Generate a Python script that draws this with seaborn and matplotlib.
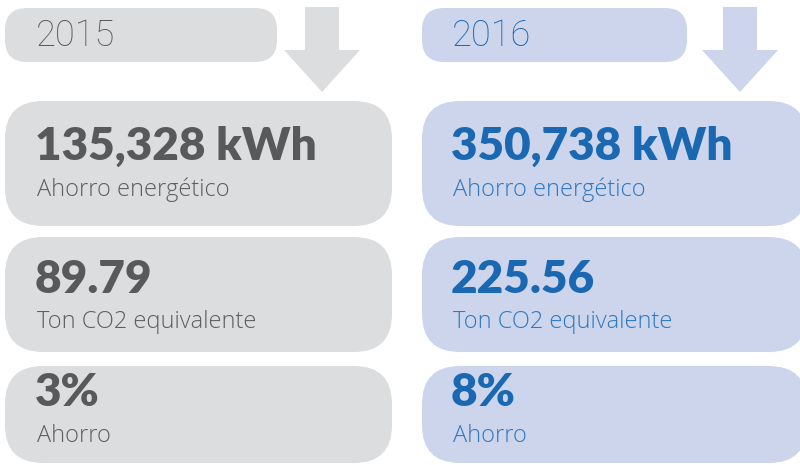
import matplotlib
matplotlib.use("Agg")
import matplotlib.pyplot as plt
from matplotlib.patches import FancyBboxPatch, Polygon
import seaborn as sns

sns.set_theme(style="white")
plt.rcParams['font.family'] = ['Lato', 'DejaVu Sans']

# ---- data ----
years = ["2015", "2016"]
values_2015 = ["135,328 kWh", "89.79", "3%"]
values_2016 = ["350,738 kWh", "225.56", "8%"]
labels = ["Ahorro energético", "Ton CO2 equivalente", "Ahorro"]

# ---- styles ----
box_colors = ["#dcdddf", "#ccd5eb"]
value_colors = ["#58595b", "#1a67b2"]
label_colors = ["#5d5e60", "#2e78c3"]
light_font = ['Open Sans', 'DejaVu Sans']
year_font = ['Roboto', 'DejaVu Sans']

fig = plt.figure(figsize=(8, 4.65), dpi=100)
ax = fig.add_axes([0, 0, 1, 1])
ax.set_xlim(0, 800)
ax.set_ylim(465, 0)
ax.axis("off")

col_x = [5, 422]
col_w = [387, 385]
pill_w = [272, 265]
text_x = [37, 453]
arrow_cx = [322, 740]
rows = [(101, 125), (237, 115), (366, 97)]
val_cy = [146, 279, 392]
lab_cy = [190, 322, 436]

for c, (yr, vals) in enumerate(zip(years, [values_2015, values_2016])):
    # year pill
    ax.add_patch(FancyBboxPatch((col_x[c], 8), pill_w[c], 54,
                                boxstyle="round,pad=0,rounding_size=22",
                                fc=box_colors[c], ec="none"))
    ax.text(text_x[c] - 1, 36, yr, fontsize=26, fontweight="light",
            family=year_font, color=value_colors[c], va="center", ha="left")
    # arrow
    cx = arrow_cx[c]
    ax.add_patch(Polygon([(cx - 17, 7), (cx + 17, 7), (cx + 17, 50),
                          (cx + 38, 50), (cx, 92), (cx - 38, 50), (cx - 17, 50)],
                         closed=True, fc=box_colors[c], ec="none"))
    for r, (y0, h) in enumerate(rows):
        ax.add_patch(FancyBboxPatch((col_x[c], y0), col_w[c], h,
                                    boxstyle="round,pad=0,rounding_size=38",
                                    fc=box_colors[c], ec="none"))
        ax.text(text_x[c] - 2, val_cy[r], vals[r], fontsize=33, fontweight="heavy",
                color=value_colors[c], va="center", ha="left")
        ax.text(text_x[c], lab_cy[r], labels[r], fontsize=17, fontweight="light",
                family=light_font, color=label_colors[c], va="center", ha="left")

fig.savefig("out.png", dpi=100, facecolor="white")
